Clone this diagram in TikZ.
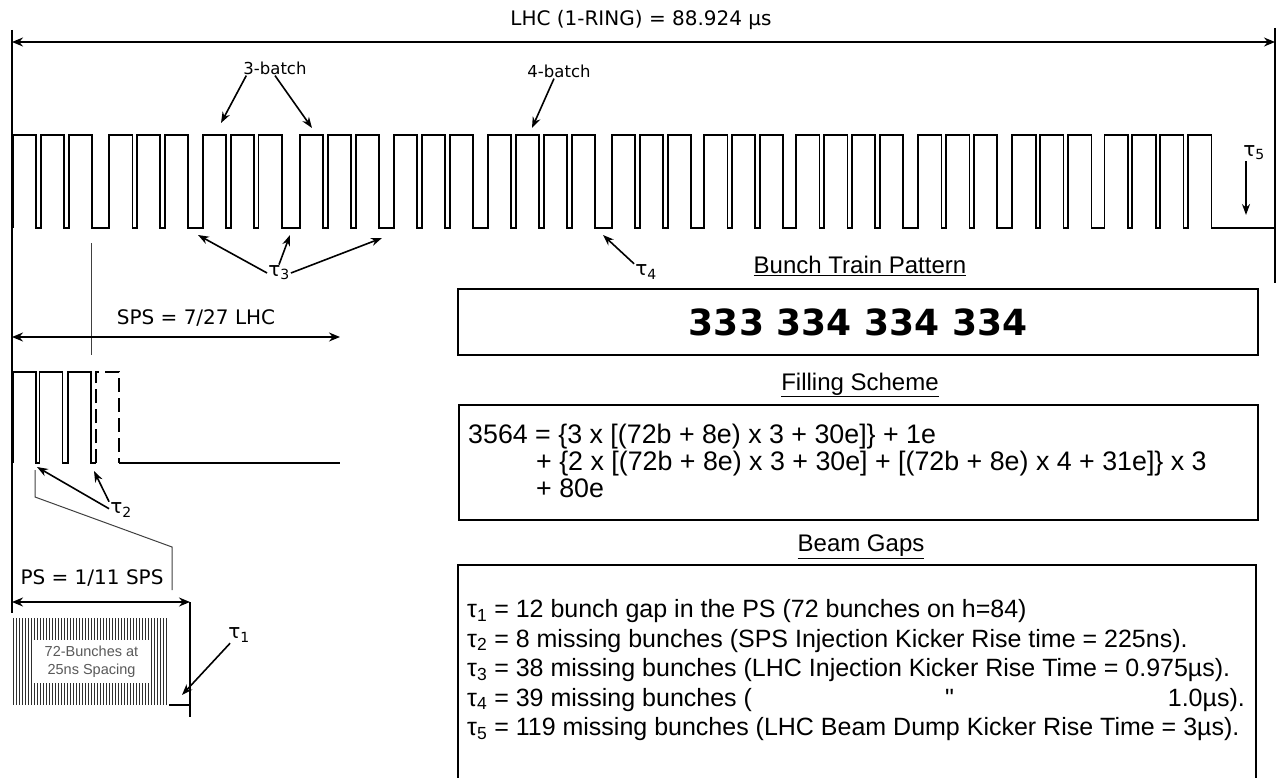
\documentclass[tikz,border=0pt]{standalone}
\usepackage{fontspec}
\setmainfont{DejaVu Sans}
\newfontfamily\boxfont{Liberation Sans}[Ligatures=TeXOff]
\usetikzlibrary{arrows.meta,positioning}

\tikzset{
  pulse/.style={line width=1.8pt, line join=miter},
  marker/.style={line width=1.6pt},
  thinline/.style={line width=1pt, black!75},
  dimarrow/.style={line width=1.6pt, {Stealth[length=11pt,width=9pt]}-{Stealth[length=11pt,width=9pt]}},
  ptr/.style={line width=1.6pt, -{Stealth[length=11pt,width=8pt]}},
  lbl/.style={font=\fontsize{20}{24}\selectfont, inner sep=1pt},
  small/.style={font=\fontsize{16.5}{20}\selectfont, inner sep=1pt},
  tau/.style={font=\fontsize{20}{24}\selectfont, inner sep=1pt},
  heading/.style={font=\boxfont\fontsize{24}{28}\selectfont, inner sep=0pt},
  boxtext/.style={font=\boxfont\fontsize{25}{28}\selectfont, anchor=base west, inner sep=0pt},
  filltext/.style={font=\boxfont\fontsize{26.8}{28}\selectfont, anchor=base west, inner sep=0pt},
  panel/.style={draw, line width=2pt},
}
\newcommand\tsub[1]{τ\textsubscript{#1}}

\begin{document}
\begin{tikzpicture}[x=1pt, y=-1pt]
\useasboundingbox (0,0) rectangle (1276,778);

% LHC ring
\draw[marker] (12,30) -- (12,613);
\draw[marker] (1275,28) -- (1275,283);
\coordinate (lhcL) at (12,42);
\coordinate (lhcR) at (1275,42);
\draw[dimarrow] (lhcL) -- (lhcR);
\node[lbl] (lhc) at (641,20) {LHC (1-RING) = 88.924 µs};

% bunch train in the LHC
\draw[pulse] (13,228)
  \foreach \k/\g in {3/17,3/14.5,3/18,3/15,3/15,4/17,3/13,3/13,4/15,3/15,3/13,4/4.6} {
    \foreach \i in {1,...,\k} { -- ++(0,-93) -- ++(23.3,0) -- ++(0,93) -- ++(4.6,0) }
    -- ++(\g-4.6,0)
  } -- (1275,228);

% batch labels
\node[small] (bat3) at (275,68) {3-batch};
\node[small] (bat4) at (559,71) {4-batch};
\coordinate (bat3a) at (221,123);
\coordinate (bat3b) at (312,128);
\coordinate (bat4a) at (532,128);
\draw[ptr] ([xshift=4pt]bat3.south west) -- (bat3a);
\draw[ptr] (bat3.south) -- (bat3b);
\draw[ptr] ([xshift=-5pt]bat4.south) -- (bat4a);

% gaps tau3, tau4, tau5
\node[tau] (t3) at (279,273) {\tsub{3}};
\coordinate (g3a) at (198,235);
\coordinate (g3b) at (290,235);
\coordinate (g3c) at (382,238);
\draw[ptr] (t3.west) -- (g3a);
\draw[ptr] (t3.north) -- (g3b);
\draw[ptr] (t3.east) -- (g3c);
\node[tau] (t4) at (646,272) {\tsub{4}};
\coordinate (g4) at (603,235);
\draw[ptr] (t4.north west) -- (g4);
\node[tau] (t5) at (1254,153) {\tsub{5}};
\coordinate (g5) at (1246,215);
\draw[ptr] (t5.south -| g5) -- (g5);

% SPS
\draw[thinline] (91,243) -- (91,355);
\coordinate (spsL) at (12,337);
\coordinate (spsR) at (340,337);
\draw[dimarrow] (spsL) -- (spsR);
\node[lbl] (sps) at (196,318) {SPS = 7/27 LHC};
\draw[pulse] (13,463)
  \foreach \x in {13,39.5,68} { -- (\x,463) -- (\x,372) -- ++(23,0) -- ++(0,91) } -- (96,463);
\draw[pulse, dash pattern=on 14pt off 6pt] (96,463) -- (96,372) -- (119,372) -- (119,463);
\draw[pulse] (119,463) -- (340,463);
\node[tau] (t2) at (121,510) {\tsub{2}};
\coordinate (g2a) at (37,467);
\coordinate (g2b) at (94,471);
\draw[ptr] ([yshift=-7pt]t2.north west) -- (g2a);
\draw[ptr] (t2.north west) -- (g2b);
\draw[thinline] (35,470) -- (35,497) -- (172,547) -- (172,590);

% PS
\coordinate (psL) at (12,602);
\coordinate (psR) at (190,602);
\draw[dimarrow] (psL) -- (psR);
\node[lbl] (ps) at (92,578) {PS = 1/11 SPS};
\draw[marker] (190,602) -- (190,717);
\foreach \x in {13.5,16.5,...,169} \draw[line width=1.8pt, black!82] (\x,618) -- (\x,705);
\draw[pulse] (169,705) -- (190,705);
\node[fill=white, inner sep=0pt, minimum width=117pt, minimum height=43pt, align=center,
  text=black!65, font=\boxfont\fontsize{14.5}{18}\selectfont] (bunches) at (91.5,661.5)
  {72-Bunches at\\25ns Spacing};
\node[tau] (t1) at (239,635) {\tsub{1}};
\coordinate (g1) at (182,695);
\draw[ptr] ([xshift=3pt]t1.south west) -- (g1);

% bunch train pattern
\node[heading] (trainhd) at (860,266) {\underline{Bunch Train Pattern}};
\node[panel, minimum width=800pt, minimum height=66pt, inner sep=0pt,
  font=\bfseries\fontsize{36}{40}\selectfont] (train) at (858,322) {333 334 334 334};

% filling scheme
\node[heading] (fillhd) at (860,385) {\underline{Filling Scheme}};
\node[panel, minimum width=799pt, minimum height=115pt] (fill) at (858.5,462.5) {};
\node[filltext] (fill1) at (468,443) {3564 = \{3 x [(72b + 8e) x 3 + 30e]\} + 1e};
\node[filltext] (fill2) at (536,470) {+ \{2 x [(72b + 8e) x 3 + 30e] + [(72b + 8e) x 4 + 31e]\} x 3};
\node[filltext] (fill3) at (536,497) {+ 80e};

% beam gaps
\node[heading] (gapshd) at (861,547) {\underline{Beam Gaps}};
\draw[panel] (458,800) |- (1256,565) -- (1256,800);
\node[boxtext] (gap1) at (467,617.5) {\tsub{1} = 12 bunch gap in the PS (72 bunches on h=84)};
\node[boxtext] (gap2) at (467,647) {\tsub{2} = 8 missing bunches (SPS Injection Kicker Rise time = 225ns).};
\node[boxtext] (gap3) at (467,676.5) {\tsub{3} = 38 missing bunches (LHC Injection Kicker Rise Time = 0.975µs).};
\node[boxtext] (gap4) at (467,706) {\tsub{4} = 39 missing bunches (};
\node[boxtext] (ditto) at (945,706) {"};
\node[boxtext, anchor=base east] (gap4b) at (1245,706) {1.0µs).};
\node[boxtext] (gap5) at (467,735.5) {\tsub{5} = 119 missing bunches (LHC Beam Dump Kicker Rise Time = 3µs).};
\end{tikzpicture}
\end{document}
